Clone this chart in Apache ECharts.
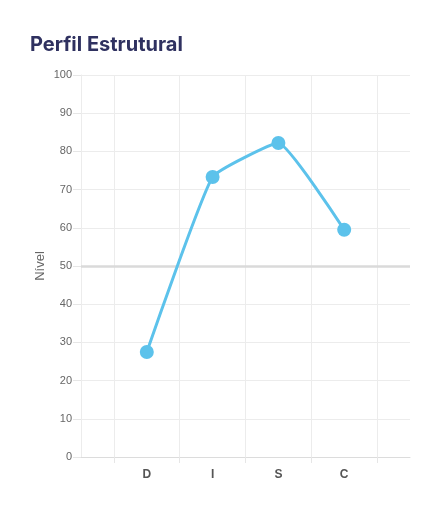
<!DOCTYPE html>
<html>
<head>
<meta charset="utf-8">
<script src="https://cdn.jsdelivr.net/npm/echarts@6/dist/echarts.min.js"></script>
<style>
html, body { margin: 0; padding: 0; background: #fff; }
#chart { width: 445px; height: 509px; }
</style>
</head>
<body>
<div id="chart"></div>
<script>
// categorias (com espaços vazios nas pontas)
const categories = ["", "D", "I", "S", "C", ""];
const nivel = [null, 27.5, 73.3, 82.2, 59.5, null];
const yTicks = [0, 10, 20, 30, 40, 50, 60, 70, 80, 90, 100];
const gridSlots = ["", "", "", "", "", "", "", "", "", "", ""];

const chart = echarts.init(document.getElementById("chart"));

const option = {
    backgroundColor: "#fff",
    title: {
        text: "Perfil Estrutural",
        left: 25,
        top: 30,
        textStyle: {
            fontFamily: "Inter",
            fontWeight: 700,
            fontSize: 20,
            color: "#2f3160"
        }
    },
    grid: { left: 81, right: 35, top: 75, bottom: 52 },
    xAxis: [
        {
            type: "category",
            data: categories,
            boundaryGap: false,
            axisLine: { show: true, lineStyle: { color: "#dcdcdc", width: 1 } },
            axisTick: { show: false },
            splitLine: { show: false },
            axisLabel: {
                color: "#555",
                fontFamily: "Liberation Sans",
                fontWeight: "bold",
                fontSize: 12,
                margin: 12
            }
        },
        {
            // linhas verticais da grelha (uma sim, uma não)
            type: "value",
            min: 0,
            max: 10,
            interval: 1,
            position: "bottom",
            axisLine: { show: false },
            axisLabel: { show: false },
            axisTick: { show: false },
            splitLine: {
                show: true,
                showMinLine: false,
                showMaxLine: false,
                lineStyle: { color: ["#ececec", "rgba(0,0,0,0)"], width: 1 }
            }
        },
        {
            // pequenos traços abaixo do eixo
            type: "category",
            data: gridSlots,
            position: "bottom",
            boundaryGap: false,
            axisLine: { show: false },
            axisLabel: { show: false },
            splitLine: { show: false },
            axisTick: {
                show: true,
                length: 6,
                interval: (i) => i % 2 === 1 && i < 10,
                lineStyle: { color: "#e6e6e6" }
            }
        }
    ],
    yAxis: {
        type: "value",
        min: yTicks[0],
        max: yTicks[yTicks.length - 1],
        interval: 10,
        name: "Nível",
        nameLocation: "middle",
        nameGap: 34,
        nameMoveOverlap: false,
        nameTextStyle: { color: "#666", fontFamily: "Liberation Sans", fontSize: 13 },
        axisLine: { show: true, lineStyle: { color: "#ececec" } },
        axisTick: { show: true, length: 8, lineStyle: { color: "#e6e6e6" } },
        axisLabel: { color: "#666", fontFamily: "Liberation Sans", fontSize: 11, margin: 9 },
        splitLine: { show: true, lineStyle: { color: "#ececec", width: 1 } }
    },
    series: [
        {
            name: "Nível",
            type: "line",
            data: nivel,
            xAxisIndex: 0,
            smooth: 0.12,
            symbol: "circle",
            symbolSize: 14,
            lineStyle: { color: "#5cc2eb", width: 3 },
            itemStyle: { color: "#5cc2eb" },
            markLine: {
                silent: true,
                symbol: "none",
                label: { show: false },
                lineStyle: { color: "#dadada", width: 2.5, type: "solid" },
                data: [{ yAxis: 50 }]
            },
            z: 5
        }
    ]
};
chart.setOption(option);
</script>
</body>
</html>
